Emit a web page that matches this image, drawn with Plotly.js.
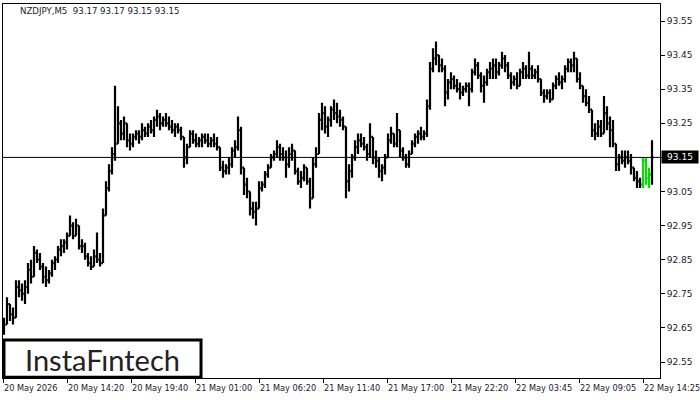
<!DOCTYPE html>
<html>
<head>
<meta charset="utf-8">
<script src="https://cdn.plot.ly/plotly-3.0.1.min.js"></script>
<style>html,body{margin:0;padding:0;background:#fff;}#chart{width:700px;height:400px;}</style>
</head>
<body>
<div id="chart"></div>
<script>
// NZDJPY M5 (aggregated: each entry = 15 minutes)
const symbolTitle = 'NZDJPY,M5  93.17 93.17 93.15 93.15';
const lastPrice = 93.15;
const timeLabels = ['20 May 2026','20 May 14:20','20 May 19:40','21 May 01:00','21 May 06:20','21 May 11:40','21 May 17:00','21 May 22:20','22 May 03:45','22 May 09:05','22 May 14:25'];
const highlightBars = [213, 214, 215];

const openP = [
92.64,92.66,92.72,92.69,92.68,92.77,92.76,92.75,92.77,92.82,
92.80,92.87,92.85,92.83,92.80,92.79,92.81,92.84,92.85,92.88,
92.89,92.90,92.92,92.95,92.92,92.95,92.89,92.89,92.86,92.84,
92.83,92.86,92.85,92.84,92.98,93.06,93.11,93.16,93.19,93.25,
93.22,93.25,93.20,93.19,93.21,93.22,93.21,93.23,93.22,93.24,
93.23,93.26,93.27,93.25,93.26,93.25,93.24,93.23,93.24,93.23,
93.21,93.15,93.18,93.22,93.20,93.19,93.20,93.21,93.20,93.19,
93.20,93.19,93.18,93.12,93.11,93.12,93.13,93.17,93.18,93.23,
93.12,93.07,93.05,93.00,92.99,93.00,93.06,93.07,93.10,93.12,
93.15,93.16,93.18,93.16,93.15,93.13,93.16,93.17,93.11,93.08,
93.09,93.12,93.08,93.03,93.13,93.16,93.26,93.28,93.24,93.26,
93.29,93.28,93.27,93.26,93.24,93.08,93.11,93.15,93.18,93.20,
93.19,93.18,93.16,93.21,93.15,93.14,93.11,93.12,93.15,93.20,
93.22,93.19,93.23,93.17,93.15,93.13,93.16,93.19,93.21,93.22,
93.21,93.22,93.30,93.41,93.44,93.45,93.42,93.41,93.34,93.37,
93.38,93.36,93.35,93.34,93.35,93.36,93.35,93.40,93.42,93.39,
93.36,93.37,93.40,93.41,93.42,93.40,93.42,93.44,93.42,93.39,
93.37,93.38,93.36,93.40,93.41,93.39,93.41,93.39,93.40,93.38,
93.34,93.33,93.34,93.32,93.36,93.38,93.37,93.38,93.41,93.43,
93.42,93.44,93.38,93.36,93.33,93.31,93.29,93.23,93.22,93.24,
93.22,93.28,93.25,93.23,93.19,93.13,93.15,93.14,93.15,93.14,
93.12,93.09,93.08,93.07,93.14,93.09,93.10];
const highP = [
92.68,92.74,92.72,92.71,92.79,92.79,92.78,92.79,92.84,92.85,
92.89,92.88,92.87,92.84,92.83,92.82,92.85,92.86,92.89,92.91,
92.91,92.93,92.98,92.96,92.97,92.95,92.91,92.90,92.87,92.86,
92.88,92.93,92.87,93.00,93.08,93.13,93.18,93.36,93.30,93.26,
93.27,93.25,93.22,93.22,93.23,93.23,93.25,93.24,93.25,93.26,
93.27,93.29,93.28,93.27,93.28,93.27,93.26,93.25,93.25,93.24,
93.21,93.19,93.23,93.23,93.22,93.21,93.22,93.22,93.22,93.21,
93.22,93.21,93.18,93.14,93.13,93.15,93.18,93.20,93.27,93.24,
93.12,93.09,93.05,93.02,93.02,93.08,93.08,93.11,93.13,93.16,
93.17,93.20,93.19,93.18,93.17,93.18,93.19,93.17,93.12,93.11,
93.13,93.12,93.09,93.15,93.18,93.28,93.31,93.30,93.27,93.30,
93.32,93.31,93.29,93.27,93.24,93.13,93.16,93.20,93.22,93.22,
93.21,93.19,93.25,93.21,93.17,93.15,93.13,93.16,93.22,93.24,
93.22,93.28,93.23,93.18,93.16,93.17,93.20,93.22,93.23,93.24,
93.23,93.32,93.43,93.47,93.49,93.45,93.44,93.42,93.38,93.40,
93.39,93.38,93.37,93.36,93.37,93.37,93.41,93.44,93.43,93.40,
93.39,93.41,93.43,93.44,93.44,93.43,93.46,93.45,93.43,93.40,
93.39,93.40,93.41,93.43,93.42,93.46,93.42,93.41,93.42,93.38,
93.35,93.35,93.35,93.37,93.39,93.40,93.39,93.42,93.44,93.44,
93.46,93.44,93.40,93.36,93.35,93.33,93.29,93.25,93.26,93.26,
93.33,93.30,93.27,93.26,93.19,93.16,93.17,93.17,93.17,93.16,
93.12,93.11,93.09,93.15,93.15,93.12,93.20];
const lowP = [
92.63,92.66,92.67,92.66,92.68,92.74,92.73,92.72,92.75,92.78,
92.80,92.84,92.82,92.78,92.77,92.78,92.80,92.82,92.84,92.86,
92.87,92.88,92.92,92.91,92.92,92.88,92.87,92.85,92.83,92.82,
92.83,92.84,92.83,92.84,92.98,93.05,93.10,93.14,93.19,93.20,
93.20,93.18,93.17,93.18,93.20,93.19,93.20,93.21,93.21,93.22,
93.21,93.24,93.23,93.24,93.24,93.23,93.22,93.21,93.22,93.20,
93.12,93.13,93.18,93.19,93.18,93.18,93.18,93.19,93.18,93.18,
93.18,93.17,93.11,93.09,93.10,93.10,93.12,93.15,93.17,93.10,
93.04,93.03,92.98,92.97,92.95,93.00,93.05,93.06,93.09,93.12,
93.14,93.15,93.14,93.14,93.09,93.12,93.14,93.10,93.07,93.06,
93.08,93.07,93.00,93.03,93.12,93.16,93.23,93.22,93.21,93.24,
93.26,93.25,93.24,93.23,93.03,93.05,93.09,93.14,93.16,93.18,
93.17,93.14,93.15,93.13,93.12,93.09,93.08,93.10,93.15,93.19,
93.18,93.18,93.15,93.14,93.12,93.12,93.16,93.18,93.19,93.20,
93.20,93.21,93.29,93.40,93.42,93.40,93.40,93.30,93.32,93.35,
93.35,93.34,93.32,93.33,93.34,93.30,93.34,93.39,93.38,93.34,
93.31,93.36,93.38,93.38,93.38,93.39,93.41,93.40,93.38,93.35,
93.36,93.35,93.36,93.38,93.38,93.38,93.38,93.38,93.37,93.33,
93.31,93.32,93.31,93.32,93.35,93.36,93.35,93.37,93.40,93.40,
93.40,93.37,93.35,93.31,93.30,93.28,93.21,93.20,93.21,93.21,
93.22,93.23,93.18,93.18,93.11,93.11,93.13,93.12,93.13,93.10,
93.08,93.06,93.06,93.06,93.07,93.06,93.07];
const closeP = [
92.66,92.72,92.69,92.68,92.77,92.76,92.75,92.77,92.82,92.80,
92.87,92.85,92.83,92.80,92.79,92.81,92.84,92.85,92.88,92.89,
92.90,92.92,92.95,92.92,92.95,92.89,92.89,92.86,92.84,92.83,
92.86,92.85,92.84,92.98,93.06,93.11,93.16,93.19,93.25,93.22,
93.25,93.20,93.19,93.21,93.22,93.21,93.23,93.22,93.24,93.23,
93.26,93.27,93.25,93.26,93.25,93.24,93.23,93.24,93.23,93.21,
93.15,93.18,93.22,93.20,93.19,93.20,93.21,93.20,93.19,93.20,
93.19,93.18,93.12,93.11,93.12,93.13,93.17,93.18,93.23,93.12,
93.07,93.05,93.00,92.99,93.00,93.06,93.07,93.10,93.12,93.15,
93.16,93.18,93.16,93.15,93.13,93.16,93.17,93.11,93.08,93.09,
93.12,93.08,93.03,93.13,93.16,93.26,93.28,93.24,93.26,93.29,
93.28,93.27,93.26,93.24,93.08,93.11,93.15,93.18,93.20,93.19,
93.18,93.16,93.21,93.15,93.14,93.11,93.12,93.15,93.20,93.22,
93.19,93.23,93.17,93.15,93.13,93.16,93.19,93.21,93.22,93.21,
93.22,93.30,93.41,93.44,93.45,93.42,93.41,93.34,93.37,93.38,
93.36,93.35,93.34,93.35,93.36,93.35,93.40,93.42,93.39,93.36,
93.37,93.40,93.41,93.42,93.40,93.42,93.44,93.42,93.39,93.37,
93.38,93.36,93.40,93.41,93.39,93.41,93.39,93.40,93.38,93.34,
93.33,93.34,93.32,93.36,93.38,93.37,93.38,93.41,93.43,93.42,
93.44,93.38,93.36,93.33,93.31,93.29,93.23,93.22,93.24,93.22,
93.28,93.25,93.23,93.19,93.13,93.15,93.14,93.15,93.14,93.12,
93.09,93.08,93.07,93.14,93.09,93.10,93.15];

// layout helpers (positions)
const LABEL_STEP = 64 / 3;   // 64 five-minute bars between labels, 3 per entry
const tickPos = timeLabels.map((_, k) => k * LABEL_STEP - 1/3);
const idx = openP.map((_, i) => i);
const isHi = i => highlightBars.indexOf(i) >= 0;
const pick = (arr, want) => arr.filter((_, i) => isHi(i) === want);

const mk = (want, color) => ({
  type: 'ohlc',
  x: pick(idx, want), open: pick(openP, want), high: pick(highP, want),
  low: pick(lowP, want), close: pick(closeP, want),
  increasing: {line: {color: color, width: 2.2}},
  decreasing: {line: {color: color, width: 2.2}},
  tickwidth: 0.5, hoverinfo: 'skip', showlegend: false
});

const data = [mk(false, '#000000'), mk(true, '#00e000')];

const axisFont = {family: 'DejaVu Sans, sans-serif', size: 9, color: '#1a1a2a'};
const xFont = {family: 'DejaVu Sans, sans-serif', size: 8.2, color: '#1a1a2a'};

const xLabelAnns = timeLabels.map((t, k) => ({
  xref: 'x', yref: 'paper', x: tickPos[k], y: 0, xanchor: 'left', yanchor: 'top',
  yshift: -3, xshift: -1, text: t, showarrow: false, font: xFont
}));

const layout = {
  width: 700, height: 400,
  margin: {l: 3, r: 40, t: 4, b: 22, pad: 0},
  paper_bgcolor: '#ffffff', plot_bgcolor: '#ffffff',
  showlegend: false,
  xaxis: {
    range: [-1/3, 656/3], rangeslider: {visible: false},
    tickmode: 'array', tickvals: tickPos, showticklabels: false,
    automargin: false,
    ticks: 'outside', ticklen: 4, tickcolor: '#000', tickwidth: 1,
    showgrid: false, zeroline: false,
    showline: true, linecolor: '#000', linewidth: 1, mirror: true,
    fixedrange: true
  },
  yaxis: {
    side: 'right',
    range: [92.5031, 93.5999],
    tick0: 92.55, dtick: 0.1, tickformat: '.2f',
    ticks: 'outside', ticklen: 4, tickcolor: '#000', tickwidth: 1,
    showgrid: false, zeroline: false, automargin: false,
    showline: true, linecolor: '#000', linewidth: 1, mirror: true,
    tickfont: axisFont, fixedrange: true
  },
  shapes: [
    {type: 'line', xref: 'paper', x0: 0, x1: 1, yref: 'y', y0: lastPrice, y1: lastPrice,
     line: {color: '#000', width: 1}},
    {type: 'rect', xref: 'paper', x0: 0.0015, x1: 0.3014, yref: 'paper', y0: 0.002, y1: 0.1016,
     line: {color: '#000', width: 3}, fillcolor: '#ffffff', layer: 'above'}
  ],
  annotations: [
    {xref: 'paper', yref: 'paper', x: 0.0228, y: 0.981, xanchor: 'left', yanchor: 'middle',
     text: symbolTitle, showarrow: false, font: {family: 'DejaVu Sans, sans-serif', size: 8.6, color: '#1a1a2a'}},
    {xref: 'paper', yref: 'y', x: 1, y: lastPrice, xanchor: 'left', yanchor: 'middle', xshift: 1,
     text: lastPrice.toFixed(2), showarrow: false, bgcolor: '#000', borderpad: 1, width: 34, align: 'center',
     font: {family: 'DejaVu Sans, sans-serif', size: 9, color: '#ffffff'}},
    {xref: 'paper', yref: 'paper', x: 0.1507, y: 0.0508, xanchor: 'center', yanchor: 'middle',
     text: 'InstaF\u0131ntech', showarrow: false,
     font: {family: 'Lato, sans-serif', size: 29, color: '#222222'}}
  ].concat(xLabelAnns)
};

Plotly.newPlot('chart', data, layout, {staticPlot: true, displayModeBar: false});
</script>
</body>
</html>
